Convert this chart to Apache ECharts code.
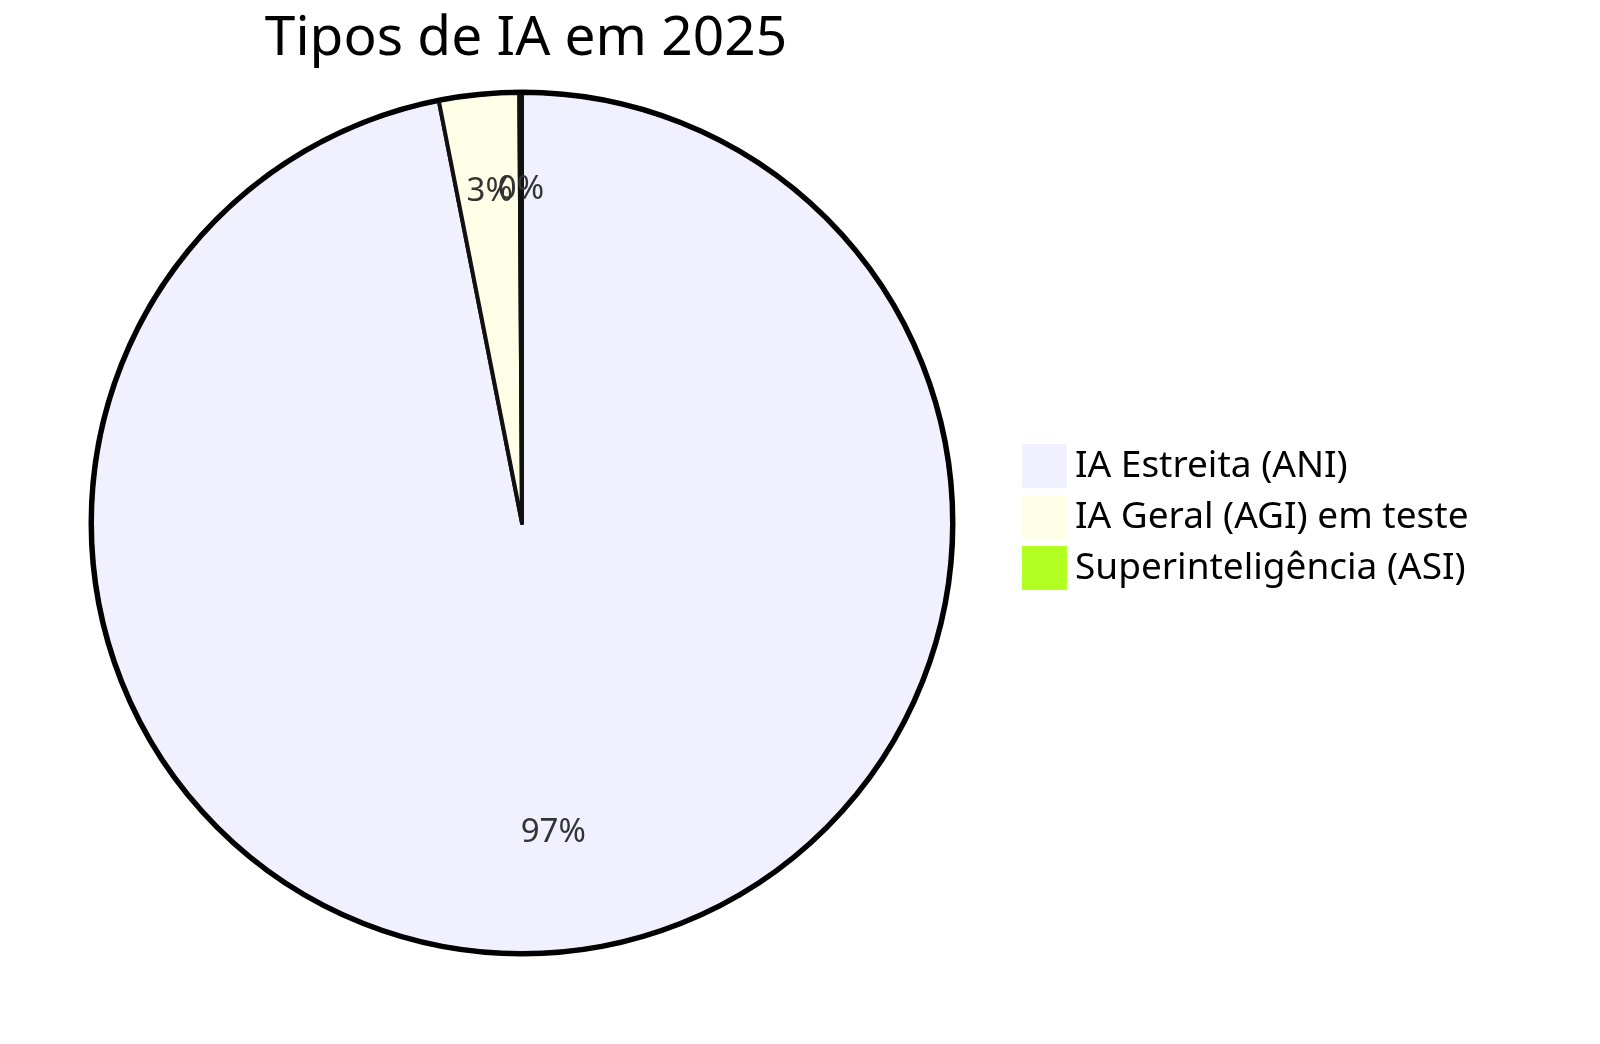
<!DOCTYPE html>
<html><head><meta charset="utf-8">
<script src="https://cdn.jsdelivr.net/npm/echarts@6/dist/echarts.min.js"></script>
<style>html,body{margin:0;padding:0;background:#fff}#c{width:1600px;height:1044px}</style>
</head><body><div id="c"></div>
<script>
const titleText = 'Tipos de IA em 2025';
const categories = ['IA Estreita (ANI)', 'IA Geral (AGI) em teste', 'Superinteligência (ASI)'];
const values = [97, 3, 0.1];
const colors = ['#F0F0FE', '#FFFFE8', '#B3FF22'];
const FONT = '"Noto Sans", sans-serif';

const data = categories.map((n, i) => ({ name: n, value: values[i], itemStyle: { color: colors[i] } }));
const chart = echarts.init(document.getElementById('c'));
chart.setOption({
  animation: false,
  title: { text: titleText, left: 521, top: 7, textAlign: 'center',
    textStyle: { fontFamily: FONT, fontSize: 55, fontWeight: 'normal', color: '#000' } },
  legend: { orient: 'vertical', left: 1017, top: 439, itemWidth: 45, itemHeight: 44, itemGap: 7,
    icon: 'rect', data: categories, selectedMode: false,
    itemStyle: { borderWidth: 0 },
    textStyle: { fontFamily: FONT, fontSize: 37, color: '#000', padding: [0, 0, 0, 3] } },
  series: [
    { type: 'pie', name: 'main', center: [522, 523], radius: [0, 430], startAngle: 90, clockwise: true,
      data: data, label: { show: false }, labelLine: { show: false },
      itemStyle: { borderColor: '#111', borderWidth: 4 }, emphasis: { disabled: true } },
    { type: 'pie', name: 'ring', center: [522, 523], radius: [0, 431], silent: true,
      data: [{ name: '_ring', value: 1 }], label: { show: false }, labelLine: { show: false },
      itemStyle: { color: 'rgba(0,0,0,0)', borderColor: '#000', borderWidth: 5 }, emphasis: { disabled: true } },
    { type: 'pie', name: 'labels', center: [522, 512], radius: [207, 431], startAngle: 90, clockwise: true, silent: true,
      avoidLabelOverlap: false, labelLayout: { hideOverlap: false },
      data: categories.map((n, i) => ({ name: n, value: values[i], itemStyle: { color: 'rgba(0,0,0,0)', borderWidth: 0 } })),
      label: { show: true, position: 'inside', fontFamily: FONT, fontSize: 33, color: '#333',
        formatter: p => Math.round(p.percent) + '%' },
      labelLine: { show: false }, emphasis: { disabled: true } }
  ]
});
</script></body></html>
